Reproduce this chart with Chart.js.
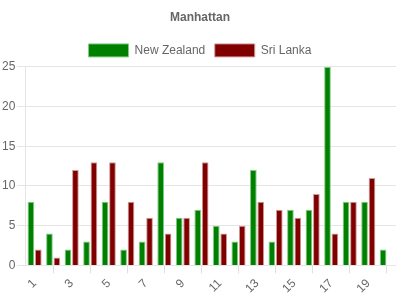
<!DOCTYPE html>
<html>
<head>
<meta charset="utf-8">
<script src="https://cdn.jsdelivr.net/npm/chart.js@4/dist/chart.umd.min.js"></script>
<style>
  html, body { margin: 0; padding: 0; background: #fff; }
  #wrap { width: 400px; height: 300px; }
</style>
</head>
<body>
<div id="wrap"><canvas id="chart"></canvas></div>
<script>
// Gegevens
const categories = ['1','2','3','4','5','6','7','8','9','10','11','12','13','14','15','16','17','18','19','20'];
const newZealand = [8, 4, 2, 3, 8, 2, 3, 13, 6, 7, 5, 3, 12, 3, 7, 7, 25, 8, 8, 2];
const sriLanka = [2, 1, 12, 13, 13, 8, 6, 4, 6, 13, 4, 5, 8, 7, 6, 9, 4, 8, 11, 0];
const yTicks = [0, 5, 10, 15, 20, 25];

Chart.defaults.font.family = '"Liberation Sans", Arial, sans-serif';
Chart.defaults.font.size = 12;
Chart.defaults.color = '#666';

const ctx = document.getElementById('chart').getContext('2d');
new Chart(ctx, {
    type: 'bar',
    data: {
        labels: categories,
        datasets: [
            {
                label: 'New Zealand',
                data: newZealand,
                backgroundColor: '#008000',
                borderColor: '#7fcc7f',
                borderWidth: 1
            },
            {
                label: 'Sri Lanka',
                data: sriLanka,
                backgroundColor: '#800000',
                borderColor: '#d09a9a',
                borderWidth: 1
            }
        ]
    },
    options: {
        responsive: true,
        maintainAspectRatio: false,
        animation: false,
        layout: { padding: { top: 4, right: 0, left: 0, bottom: 1 } },
        plugins: {
            title: {
                display: true,
                text: 'Manhattan',
                font: { size: 12, weight: 'bold' },
                padding: { top: 6, bottom: 10 }
            },
            legend: {
                labels: {
                    boxWidth: 40,
                    boxHeight: 13,
                    padding: 9.5
                }
            },
            tooltip: { enabled: false }
        },
        scales: {
            x: {
                offset: true,
                grid: {
                    offset: false,
                    drawOnChartArea: false,
                    tickLength: 8,
                    color: c => (c.index % 2 === 1 ? '#e0e0e0' : 'rgba(0,0,0,0)')
                },
                border: { display: false },
                ticks: {
                    autoSkip: false,
                    minRotation: 45,
                    maxRotation: 45,
                    callback: (v, i) => (i % 2 === 0 ? categories[i] : '')
                }
            },
            y: {
                min: 0,
                max: 25,
                afterBuildTicks: axis => { axis.ticks = yTicks.map(v => ({ value: v })); },
                grid: { color: '#e5e5e5', tickLength: 8 },
                border: { color: '#e5e5e5' },
                ticks: { padding: 2 }
            }
        }
    }
});
</script>
</body>
</html>
